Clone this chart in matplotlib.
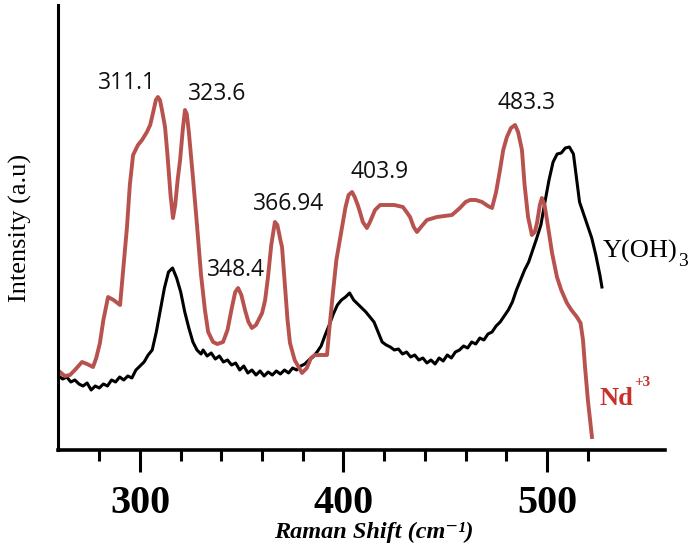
import matplotlib
matplotlib.use('Agg')
import matplotlib.pyplot as plt

# Nd+3 doped spectrum
nd_x = [260.7, 263.0, 265.6, 268.0, 271.5, 274.0, 276.9, 278.5, 280.3, 282.0,
        284.3, 287.0, 290.2, 291.5, 293.6, 295.0, 296.6, 299.0, 301.0, 303.4,
        305.0, 306.5, 307.8, 308.8, 309.8, 310.8, 312.3, 313.5, 315.0, 316.2,
        317.3, 318.5, 319.7, 321.0, 322.1, 323.0, 324.0, 326.0, 328.0, 330.0,
        331.9, 333.5, 335.9, 338.0, 340.8, 343.0, 345.2, 346.8, 348.2, 349.8,
        351.6, 353.3, 355.0, 357.0, 360.0, 361.5, 362.9, 364.5, 366.3, 367.5,
        369.0, 369.8, 371.0, 372.5, 373.7, 376.0, 379.6, 382.0, 384.0, 386.0,
        389.0, 391.9, 393.0, 394.8, 396.5, 399.3, 401.0, 402.5, 404.2, 405.5,
        407.0, 408.1, 409.5, 411.5, 413.0, 415.5, 418.0, 421.4, 425.0, 429.2,
        431.0, 432.7, 434.5, 436.1, 438.5, 441.0, 445.9, 453.3, 457.2, 460.0,
        462.2, 465.0, 468.1, 471.0, 473.0, 475.0, 476.9, 478.5, 480.3, 482.3,
        484.3, 485.8, 487.7, 489.0, 490.7, 492.6, 494.0, 495.1, 496.5, 497.5,
        498.8, 500.0, 502.5, 504.9, 507.0, 509.8, 512.0, 514.7, 516.5, 517.7,
        518.7, 520.1, 522.1]
nd_y = [78, 74, 75, 80, 88, 86, 83, 92, 107, 130,
        153, 150, 145, 175, 223, 265, 295, 305, 310, 318,
        325, 338, 350, 353, 350, 340, 323, 295, 255, 232,
        245, 270, 290, 320, 340, 336, 318, 273, 225, 175,
        140, 118, 108, 106, 108, 120, 143, 158, 162, 155,
        140, 128, 122, 125, 137, 150, 173, 205, 228, 225,
        210, 203, 170, 130, 107, 90, 77, 82, 92, 95,
        95, 95, 120, 157, 190, 223, 243, 255, 258, 253,
        245, 238, 228, 222, 228, 240, 245, 245, 245, 243,
        238, 233, 223, 218, 224, 230, 233, 235, 242, 248,
        250, 250, 248, 244, 242, 258, 280, 300, 313, 322,
        325, 318, 300, 265, 233, 215, 218, 227, 245, 252,
        245, 230, 197, 173, 160, 147, 140, 133, 127, 110,
        83, 50, 13]

# Y(OH)3 spectrum
y_x = [260, 262, 264, 266, 268, 270, 272, 274, 276, 278, 280, 282, 284, 286,
       288, 290, 292, 294, 296, 298, 300, 302, 304, 306, 308, 310, 312, 314,
       316, 318, 320, 322, 324, 326, 328, 330, 331, 333, 335, 337, 339, 341,
       343, 345, 347, 349, 351, 353, 355, 357, 359, 361, 363, 365, 367, 369,
       371, 373, 375, 377, 379, 381, 383, 385, 387, 389, 391, 393, 395, 397,
       399, 401, 403, 405, 407, 409, 411, 413, 415, 417, 419, 421, 423, 425,
       427, 429, 431, 433, 435, 437, 439, 441, 443, 445, 447, 449, 451, 453,
       455, 457, 459, 461, 463, 465, 467, 469, 471, 473, 475, 477, 479, 481,
       483, 485, 487, 489, 491, 493, 495, 497, 499, 501, 503, 505, 507, 509,
       511, 513, 514, 516, 518, 520, 522, 524, 526, 527]
y_y = [74, 71, 73, 68, 70, 66, 64, 67, 60, 64, 62, 66, 64, 70,
       68, 73, 70, 74, 72, 80, 84, 88, 95, 100, 118, 140, 162, 178,
       182, 172, 158, 138, 122, 108, 100, 96, 100, 94, 97, 91, 94, 88,
       90, 85, 87, 80, 84, 77, 80, 75, 79, 74, 78, 75, 79, 76,
       80, 77, 82, 80, 84, 86, 90, 93, 98, 104, 115, 125, 136, 145,
       150, 153, 157, 150, 146, 142, 138, 133, 128, 118, 108, 105, 103, 100,
       101, 96, 98, 93, 95, 90, 92, 87, 90, 86, 92, 89, 95, 92,
       98, 100, 104, 102, 108, 106, 112, 110, 116, 118, 124, 128, 134, 140,
       148, 160, 170, 180, 188, 200, 212, 225, 248, 270, 288, 296, 297, 302,
       303, 296, 280, 248, 236, 224, 212, 195, 175, 163]

peak_labels = ['311.1', '323.6', '348.4', '366.94', '403.9', '483.3']
peak_x = [293.6, 337.8, 347.2, 373.2, 417.9, 490.2]
peak_y = [367, 356, 180, 246, 278, 347]

fig = plt.figure(figsize=(6.89, 5.57), dpi=100)
ax = fig.add_axes([58 / 689, 107 / 557, 607 / 689, 445 / 557])

ax.plot(y_x, y_y, color='black', lw=2.2)
ax.plot(nd_x, nd_y, color='#b8524f', lw=2.8, solid_joinstyle='round')

for lab, px, py in zip(peak_labels, peak_x, peak_y):
    ax.text(px, py, lab, ha='center', va='center', fontsize=16.5,
            family='Open Sans', color='#111111')

ax.text(527.5, 192, 'Y(OH)', fontsize=19, family='Liberation Serif',
        ha='left', va='baseline')
ax.text(564.4, 189, '3', fontsize=14, family='Liberation Serif',
        ha='left', va='center')
ax.text(526.0, 45, 'Nd', fontsize=19, family='Liberation Serif',
        fontweight='bold', color='#c8302c', ha='left', va='baseline')
ax.text(543.0, 68, '+3', fontsize=11, family='Liberation Serif',
        fontweight='bold', color='#c8302c', ha='left', va='center')

ax.set_xlim(259.7, 558)
ax.set_ylim(0, 445)
ax.spines['top'].set_visible(False)
ax.spines['right'].set_visible(False)
ax.spines['left'].set_linewidth(2.2)
ax.spines['bottom'].set_linewidth(2.6)
ax.set_yticks([])
ax.set_xticks([300, 400, 500])
ax.set_xticks(list(range(280, 521, 20)), minor=True)
ax.tick_params(axis='x', which='major', length=16, width=2.2, pad=9)
ax.tick_params(axis='x', which='minor', length=8, width=2.2)
for t in ax.get_xticklabels():
    t.set_family('Liberation Serif')
    t.set_fontweight('bold')
    t.set_fontsize(29)

fig.text(0.029, 0.59, 'Intensity (a.u)', rotation=90, ha='center', va='center',
         fontsize=19, family='Liberation Serif')
fig.text(0.543, 0.045, 'Raman Shift (cm\u207b\u00b9)', ha='center', va='center',
         fontsize=17.5, family=['Liberation Serif', 'DejaVu Serif'],
         fontweight='bold', style='italic')

fig.savefig('out.png', dpi=100)
